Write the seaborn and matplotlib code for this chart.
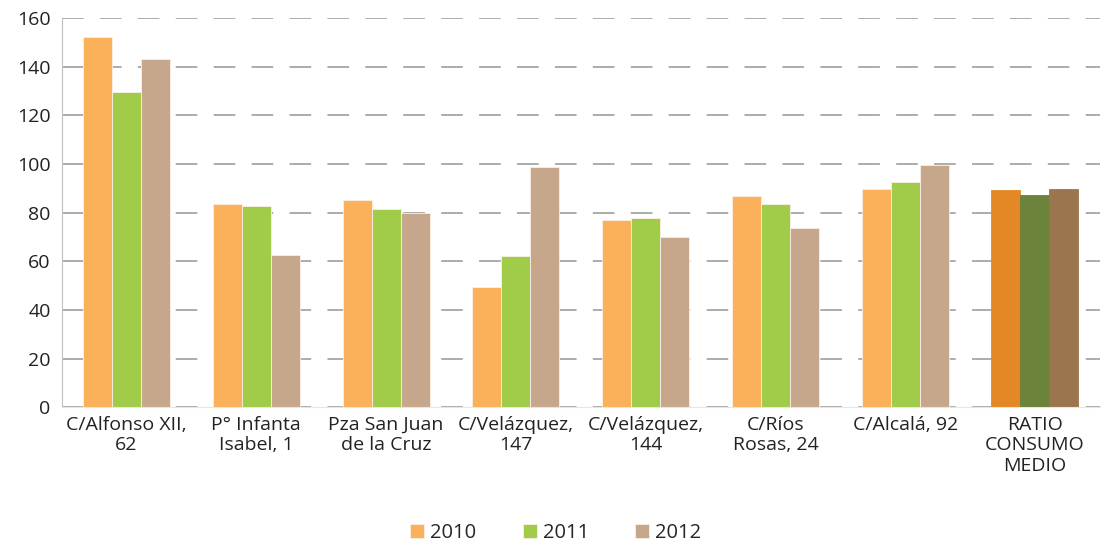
import matplotlib.pyplot as plt
import seaborn as sns
import pandas as pd

categories = ['C/Alfonso XII,\n62', 'P° Infanta\nIsabel, 1', 'Pza San Juan\nde la Cruz',
              'C/Velázquez,\n147', 'C/Velázquez,\n144', 'C/Ríos\nRosas, 24',
              'C/Alcalá, 92', 'RATIO\nCONSUMO\nMEDIO']
years = ['2010', '2011', '2012']
v2010 = [152, 83.5, 85, 49.5, 77, 87, 89.8, 89.3]
v2011 = [129.5, 82.8, 81.5, 62, 77.8, 83.5, 92.6, 87.2]
v2012 = [143, 62.5, 79.8, 98.8, 70, 73.8, 99.6, 89.8]

colors = ['#FBB15A', '#A0CC4A', '#C6A78B']
dark_colors = ['#E38824', '#6B833A', '#9B754E']

df = pd.DataFrame({
    'cat': categories * 3,
    'year': [y for y in years for _ in categories],
    'val': v2010 + v2011 + v2012,
})

sns.set_style('white')
plt.rcParams['font.family'] = ['Open Sans', 'DejaVu Sans']

fig, ax = plt.subplots(figsize=(11.02, 5.43), dpi=100)
sns.barplot(data=df, x='cat', y='val', hue='year', palette=colors,
            width=0.67, gap=0, ax=ax, saturation=1, edgecolor='#FBEFE5', linewidth=0.6)

# the average-ratio group is drawn in darker shades
for cont, dc in zip(ax.containers, dark_colors):
    p = cont.patches[-1]
    p.set_facecolor(dc)
    p.set_edgecolor(dc)

ax.set_ylim(0, 160)
ax.set_yticks(range(0, 161, 20))
ax.set_xlim(-0.5, len(categories) - 0.5)
ax.yaxis.grid(True, color='#A6A6A6', linestyle=(0, (12, 9)), linewidth=1.3)
ax.set_axisbelow(True)
ax.set_xlabel('')
ax.set_ylabel('')
for s in ['top', 'right']:
    ax.spines[s].set_visible(False)
ax.spines['left'].set_color('#BFBFBF')
ax.spines['bottom'].set_color('#E6E6E6')
ax.tick_params(axis='both', labelsize=14, colors='#222222', length=0)
ax.tick_params(axis='x', pad=6)
ax.tick_params(axis='y', pad=8)

ax.legend(loc='upper center', bbox_to_anchor=(0.476, -0.25), ncol=3, frameon=False,
          fontsize=14.5, handlelength=0.7, handleheight=0.7, columnspacing=2.3,
          handletextpad=0.3)

plt.subplots_adjust(left=0.056, right=0.998, top=0.967, bottom=0.25)
plt.savefig('out.png', dpi=100)
